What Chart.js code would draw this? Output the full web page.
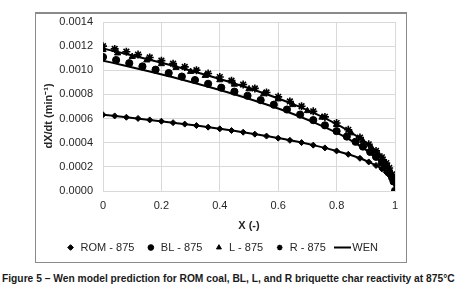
<!DOCTYPE html>
<html>
<head>
<meta charset="utf-8">
<script src="https://cdn.jsdelivr.net/npm/chart.js@4.4.1/dist/chart.umd.min.js"></script>
<style>
  body { margin: 0; background: #fff; }
  #wrap { position: relative; width: 464px; height: 291px; overflow: hidden; }
  #frame { position: absolute; left: 35px; top: 12px; width: 372px; height: 251px;
           border: 1px solid #8a8a8a; border-top-width: 2px; box-sizing: border-box; }
  #chart { position: absolute; left: 0; top: 0; }
  #caption { position: absolute; left: 2px; top: 273px; white-space: nowrap;
             font: bold 10px "Liberation Sans", Arial, sans-serif; color: #1a1a1a;
             transform-origin: 0 0; }
</style>
</head>
<body>
<div id="wrap">
  <div id="frame"></div>
  <canvas id="chart" width="464" height="263"></canvas>
  <div id="caption">Figure 5 – Wen model prediction for ROM coal, BL, L, and R briquette char reactivity at 875°C</div>
</div>
<script>
// measured series (X, dX/dt in 1/min)
const romX = [0, 0.04, 0.08, 0.12, 0.16, 0.20, 0.24, 0.28, 0.32, 0.36, 0.40, 0.44, 0.48, 0.52, 0.56, 0.60,
              0.64, 0.68, 0.72, 0.76, 0.80, 0.84, 0.88, 0.91, 0.935, 0.955, 0.97, 0.98, 0.99, 0.995, 1.0];
const romY = [0.000632, 0.000622, 0.000611, 0.000601, 0.000589, 0.000578, 0.000566, 0.000554, 0.000542,
              0.000529, 0.000515, 0.000501, 0.000487, 0.000471, 0.000455, 0.000438, 0.000420, 0.000401,
              0.000380, 0.000357, 0.000332, 0.000304, 0.000271, 0.000241, 0.000212, 0.000183, 0.000155,
              0.000132, 0.000100, 0.000076, 0];

const blX = [0, 0.045, 0.09, 0.135, 0.18, 0.225, 0.27, 0.315, 0.36, 0.405, 0.45, 0.495, 0.54, 0.585, 0.63,
             0.675, 0.72, 0.76, 0.80, 0.835, 0.865, 0.89, 0.915, 0.935, 0.955, 0.97, 0.98, 0.99, 0.995, 1.0];
const blY = [0.001110, 0.001085, 0.001059, 0.001032, 0.001005, 0.000977, 0.000948, 0.000919, 0.000888,
             0.000856, 0.000823, 0.000789, 0.000753, 0.000715, 0.000675, 0.000633, 0.000587, 0.000544,
             0.000496, 0.000451, 0.000408, 0.000368, 0.000324, 0.000283, 0.000235, 0.000192, 0.000157,
             0.000111, 0.000079, 0];

const lX = [0, 0.05, 0.10, 0.15, 0.20, 0.25, 0.30, 0.35, 0.40, 0.45, 0.50, 0.55, 0.60, 0.65, 0.70, 0.75,
            0.80, 0.85, 0.89, 0.92, 0.945, 0.965, 0.98, 0.99, 0.995, 1.0];
const lY = [0.001170, 0.001142, 0.001113, 0.001084, 0.001053, 0.001022, 0.000989, 0.000956, 0.000920,
            0.000883, 0.000845, 0.000804, 0.000761, 0.000714, 0.000664, 0.000610, 0.000549, 0.000480,
            0.000415, 0.000357, 0.000299, 0.000242, 0.000186, 0.000134, 0.000097, 0];

const rX = [0, 0.04, 0.08, 0.12, 0.16, 0.20, 0.24, 0.28, 0.32, 0.36, 0.40, 0.44, 0.48, 0.52, 0.56, 0.60,
            0.64, 0.68, 0.72, 0.76, 0.80, 0.84, 0.88, 0.91, 0.935, 0.955, 0.97, 0.98, 0.99, 0.995, 1.0];
const rY = [0.001200, 0.001177, 0.001154, 0.001130, 0.001106, 0.001080, 0.001055, 0.001028, 0.001001,
            0.000973, 0.000944, 0.000914, 0.000882, 0.000850, 0.000816, 0.000780, 0.000742, 0.000702,
            0.000660, 0.000614, 0.000563, 0.000507, 0.000443, 0.000387, 0.000332, 0.000279, 0.000231,
            0.000191, 0.000138, 0.000100, 0];

// Wen model curves
const wenX = [0, 0.08, 0.16, 0.24, 0.32, 0.40, 0.48, 0.56, 0.64, 0.72, 0.80, 0.84, 0.88, 0.91, 0.935,
              0.955, 0.97, 0.98, 0.99, 0.995, 0.999, 1.0];
const wenRom = [0.000632, 0.000611, 0.000589, 0.000566, 0.000542, 0.000515, 0.000487, 0.000455, 0.000420,
                0.000380, 0.000332, 0.000304, 0.000271, 0.000241, 0.000212, 0.000183, 0.000155, 0.000132,
                0.000100, 0.000076, 0.000040, 0];
const wenBl = [0.001080, 0.001036, 0.000990, 0.000942, 0.000891, 0.000837, 0.000779, 0.000716, 0.000648,
               0.000571, 0.000483, 0.000432, 0.000374, 0.000324, 0.000275, 0.000229, 0.000187, 0.000153,
               0.000108, 0.000076, 0.000034, 0];
const wenLR = [0.001180, 0.001135, 0.001087, 0.001037, 0.000984, 0.000928, 0.000868, 0.000802, 0.000730,
               0.000649, 0.000554, 0.000499, 0.000436, 0.000381, 0.000327, 0.000275, 0.000227, 0.000188,
               0.000135, 0.000098, 0.000046, 0];

const xTicks = [0, 0.2, 0.4, 0.6, 0.8, 1];
const yTicks = [0, 0.0002, 0.0004, 0.0006, 0.0008, 0.0010, 0.0012, 0.0014];

const pts = (xs, ys) => xs.map((x, i) => ({x: x, y: ys[i]}));

const FONT = '"Liberation Sans", Arial, sans-serif';
const INK = '#000';
const TEXT = '#262626';
const GRID = '#d9d9d9';

// short black line for the WEN legend entry
const lineIcon = document.createElement('canvas');
lineIcon.width = 17;
lineIcon.height = 6;
const lctx = lineIcon.getContext('2d');
lctx.fillStyle = INK;
lctx.fillRect(0, 2, 17, 2);

function markers(label, xs, ys, style, radius) {
    return {
        label: label,
        data: pts(xs, ys),
        showLine: false,
        pointStyle: style,
        pointRadius: radius,
        pointBackgroundColor: INK,
        pointBorderColor: INK,
        pointBorderWidth: style === 'star' ? 1.6 : 1,
        backgroundColor: INK,
        borderColor: INK
    }
}

function wenLine(label, ys) {
    return {
        label: label,
        data: pts(wenX, ys),
        showLine: true,
        borderColor: INK,
        backgroundColor: INK,
        borderWidth: 2,
        pointRadius: 0,
        pointStyle: lineIcon,
        cubicInterpolationMode: 'monotone'
    }
}

// y axis title drawn by hand so it sits where the original has it
const yTitle = {
    id: 'yTitle',
    afterDraw(chart) {
        const ctx = chart.ctx;
        ctx.save();
        ctx.translate(49, 116);
        ctx.rotate(-Math.PI / 2);
        ctx.fillStyle = TEXT;
        ctx.textAlign = 'center';
        ctx.textBaseline = 'middle';
        ctx.font = 'bold 11px ' + FONT;
        ctx.fillText('dX/dt (min\u207B\u00B9)', 0, 0);
        ctx.restore();
    }
}

new Chart(document.getElementById('chart'), {
    type: 'scatter',
    data: {
        datasets: [
            markers('ROM - 875', romX, romY, 'rectRot', 3),
            markers('BL - 875', blX, blY, 'circle', 3.6),
            markers('L - 875', lX, lY, 'triangle', 3.6),
            markers('R - 875', rX, rY, 'star', 4),
            wenLine('WEN', wenLR),
            wenLine('WEN BL', wenBl),
            wenLine('WEN ROM', wenRom)
        ]
    },
    options: {
        responsive: false,
        animation: false,
        layout: {padding: {left: 49, right: 69, top: 22, bottom: 0}},
        plugins: {
            tooltip: {enabled: false},
            legend: {
                position: 'bottom',
                labels: {
                    usePointStyle: true,
                    boxWidth: 9,
                    boxHeight: 4,
                    padding: 12,
                    color: TEXT,
                    font: {family: FONT, size: 11},
                    filter: (item) => item.datasetIndex < 5
                }
            }
        },
        scales: {
            x: {
                type: 'linear',
                min: 0,
                max: 1,
                afterBuildTicks: (axis) => { axis.ticks = xTicks.map(v => ({value: v})) },
                afterFit: (axis) => { axis.height = 39 },
                grid: {color: GRID, drawTicks: false},
                border: {color: GRID},
                ticks: {
                    padding: 8,
                    color: TEXT,
                    font: {family: FONT, size: 11},
                    callback: (v) => String(v)
                },
                title: {
                    display: true,
                    text: 'X (-)',
                    color: TEXT,
                    padding: {top: 0, bottom: -3},
                    font: {family: FONT, size: 11, weight: 'bold'}
                }
            },
            y: {
                type: 'linear',
                min: 0,
                max: 0.0014,
                afterBuildTicks: (axis) => { axis.ticks = yTicks.map(v => ({value: v})) },
                afterFit: (axis) => { axis.width = 54 },
                grid: {color: GRID, drawTicks: false},
                border: {color: GRID},
                ticks: {
                    padding: 10,
                    color: TEXT,
                    font: {family: FONT, size: 11},
                    callback: (v) => v.toFixed(4)
                }
            }
        }
    },
    plugins: [yTitle]
});

// squeeze the caption to the width it has in the figure
const cap = document.getElementById('caption');
cap.style.transform = 'scaleX(' + (453 / cap.scrollWidth) + ')';
</script>
</body>
</html>
